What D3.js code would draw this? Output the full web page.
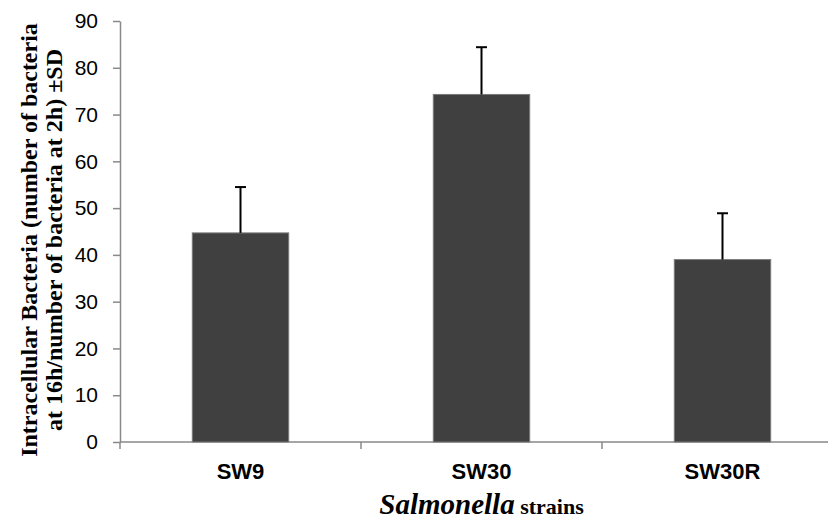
<!DOCTYPE html>
<html>
<head>
<meta charset="utf-8">
<script src="https://d3js.org/d3.v7.min.js"></script>
<style>
  body { margin: 0; background: #fff; }
  svg { display: block; }
</style>
</head>
<body>
<svg id="chart" width="828" height="522"></svg>
<script>
// strains + values
let strains = ["SW9", "SW30", "SW30R"]
let means = [44.7, 74.3, 39.0]
let sds = [9.8, 10.1, 9.9]
let yTicks = [0, 10, 20, 30, 40, 50, 60, 70, 80, 90]

let svg = d3.select("#chart")

let x = d3.scaleBand()
  .domain(strains)
  .range([120, 843])
  .padding(0)

let y = d3.scaleLinear()
  .domain([0, 90])
  .range([442, 21])

let barW = x.bandwidth() * 0.4

// y axis
let yAxis = svg.append("g")
  .attr("transform", "translate(120,0)")
  .call(d3.axisLeft(y).tickValues(yTicks).tickSize(7).tickSizeOuter(0))
yAxis.select(".domain").attr("stroke", "#898989").attr("stroke-width", 1.5)
yAxis.selectAll(".tick line").attr("stroke", "#898989").attr("stroke-width", 1.5)
yAxis.selectAll(".tick text")
  .attr("x", -22)
  .attr("fill", "#000")
  .style("font-family", "Liberation Sans, Arial, sans-serif")
  .style("font-size", "21px")

// x axis (ticks at category boundaries)
svg.append("line")
  .attr("x1", 120).attr("x2", 828)
  .attr("y1", y(0)).attr("y2", y(0))
  .attr("stroke", "#898989").attr("stroke-width", 1.5)

svg.selectAll(".xtick")
  .data(strains)
  .enter()
  .append("line")
  .attr("class", "xtick")
  .attr("x1", d => x(d)).attr("x2", d => x(d))
  .attr("y1", y(0)).attr("y2", y(0) + 7)
  .attr("stroke", "#898989").attr("stroke-width", 1.5)

// bars
svg.selectAll(".bar")
  .data(strains)
  .enter()
  .append("rect")
  .attr("class", "bar")
  .attr("x", d => x(d) + x.bandwidth() / 2 - barW / 2)
  .attr("y", (d, i) => y(means[i]))
  .attr("width", barW)
  .attr("height", (d, i) => y(0) - y(means[i]))
  .attr("fill", "#404040")
  .attr("stroke", "#7a7a7a")
  .attr("stroke-width", 1)

// error bars (upper only)
let err = svg.selectAll(".err")
  .data(strains)
  .enter()
  .append("g")
  .attr("class", "err")
err.append("line")
  .attr("x1", d => x(d) + x.bandwidth() / 2)
  .attr("x2", d => x(d) + x.bandwidth() / 2)
  .attr("y1", (d, i) => y(means[i]))
  .attr("y2", (d, i) => y(means[i] + sds[i]))
  .attr("stroke", "#000").attr("stroke-width", 2)
err.append("line")
  .attr("x1", d => x(d) + x.bandwidth() / 2 - 5.5)
  .attr("x2", d => x(d) + x.bandwidth() / 2 + 5.5)
  .attr("y1", (d, i) => y(means[i] + sds[i]))
  .attr("y2", (d, i) => y(means[i] + sds[i]))
  .attr("stroke", "#000").attr("stroke-width", 2)

// category labels
svg.selectAll(".cat")
  .data(strains)
  .enter()
  .append("text")
  .attr("class", "cat")
  .attr("x", d => x(d) + x.bandwidth() / 2)
  .attr("y", 479)
  .attr("text-anchor", "middle")
  .style("font-family", "Liberation Sans, Arial, sans-serif")
  .style("font-weight", "bold")
  .style("font-size", "22px")
  .text(d => d)

// x title
let xt = svg.append("text")
  .attr("x", x("SW30") + x.bandwidth() / 2)
  .attr("y", 514)
  .attr("text-anchor", "middle")
  .style("font-family", "Liberation Serif, Times New Roman, serif")
  .style("font-weight", "bold")
xt.append("tspan").style("font-style", "italic").style("font-size", "29px").text("Salmonella")
xt.append("tspan").style("font-size", "22px").text(" strains")

// y title
let yt = svg.append("text")
  .attr("transform", "translate(0,240) rotate(-90)")
  .attr("text-anchor", "middle")
  .style("font-family", "Liberation Serif, Times New Roman, serif")
  .style("font-weight", "bold")
  .style("font-size", "24px")
yt.append("tspan").attr("x", 0).attr("y", 37).text("Intracellular Bacteria (number of bacteria")
yt.append("tspan").attr("x", 0).attr("y", 62).text("at 16h/number of bacteria at 2h) \u00B1SD")
</script>
</body>
</html>
